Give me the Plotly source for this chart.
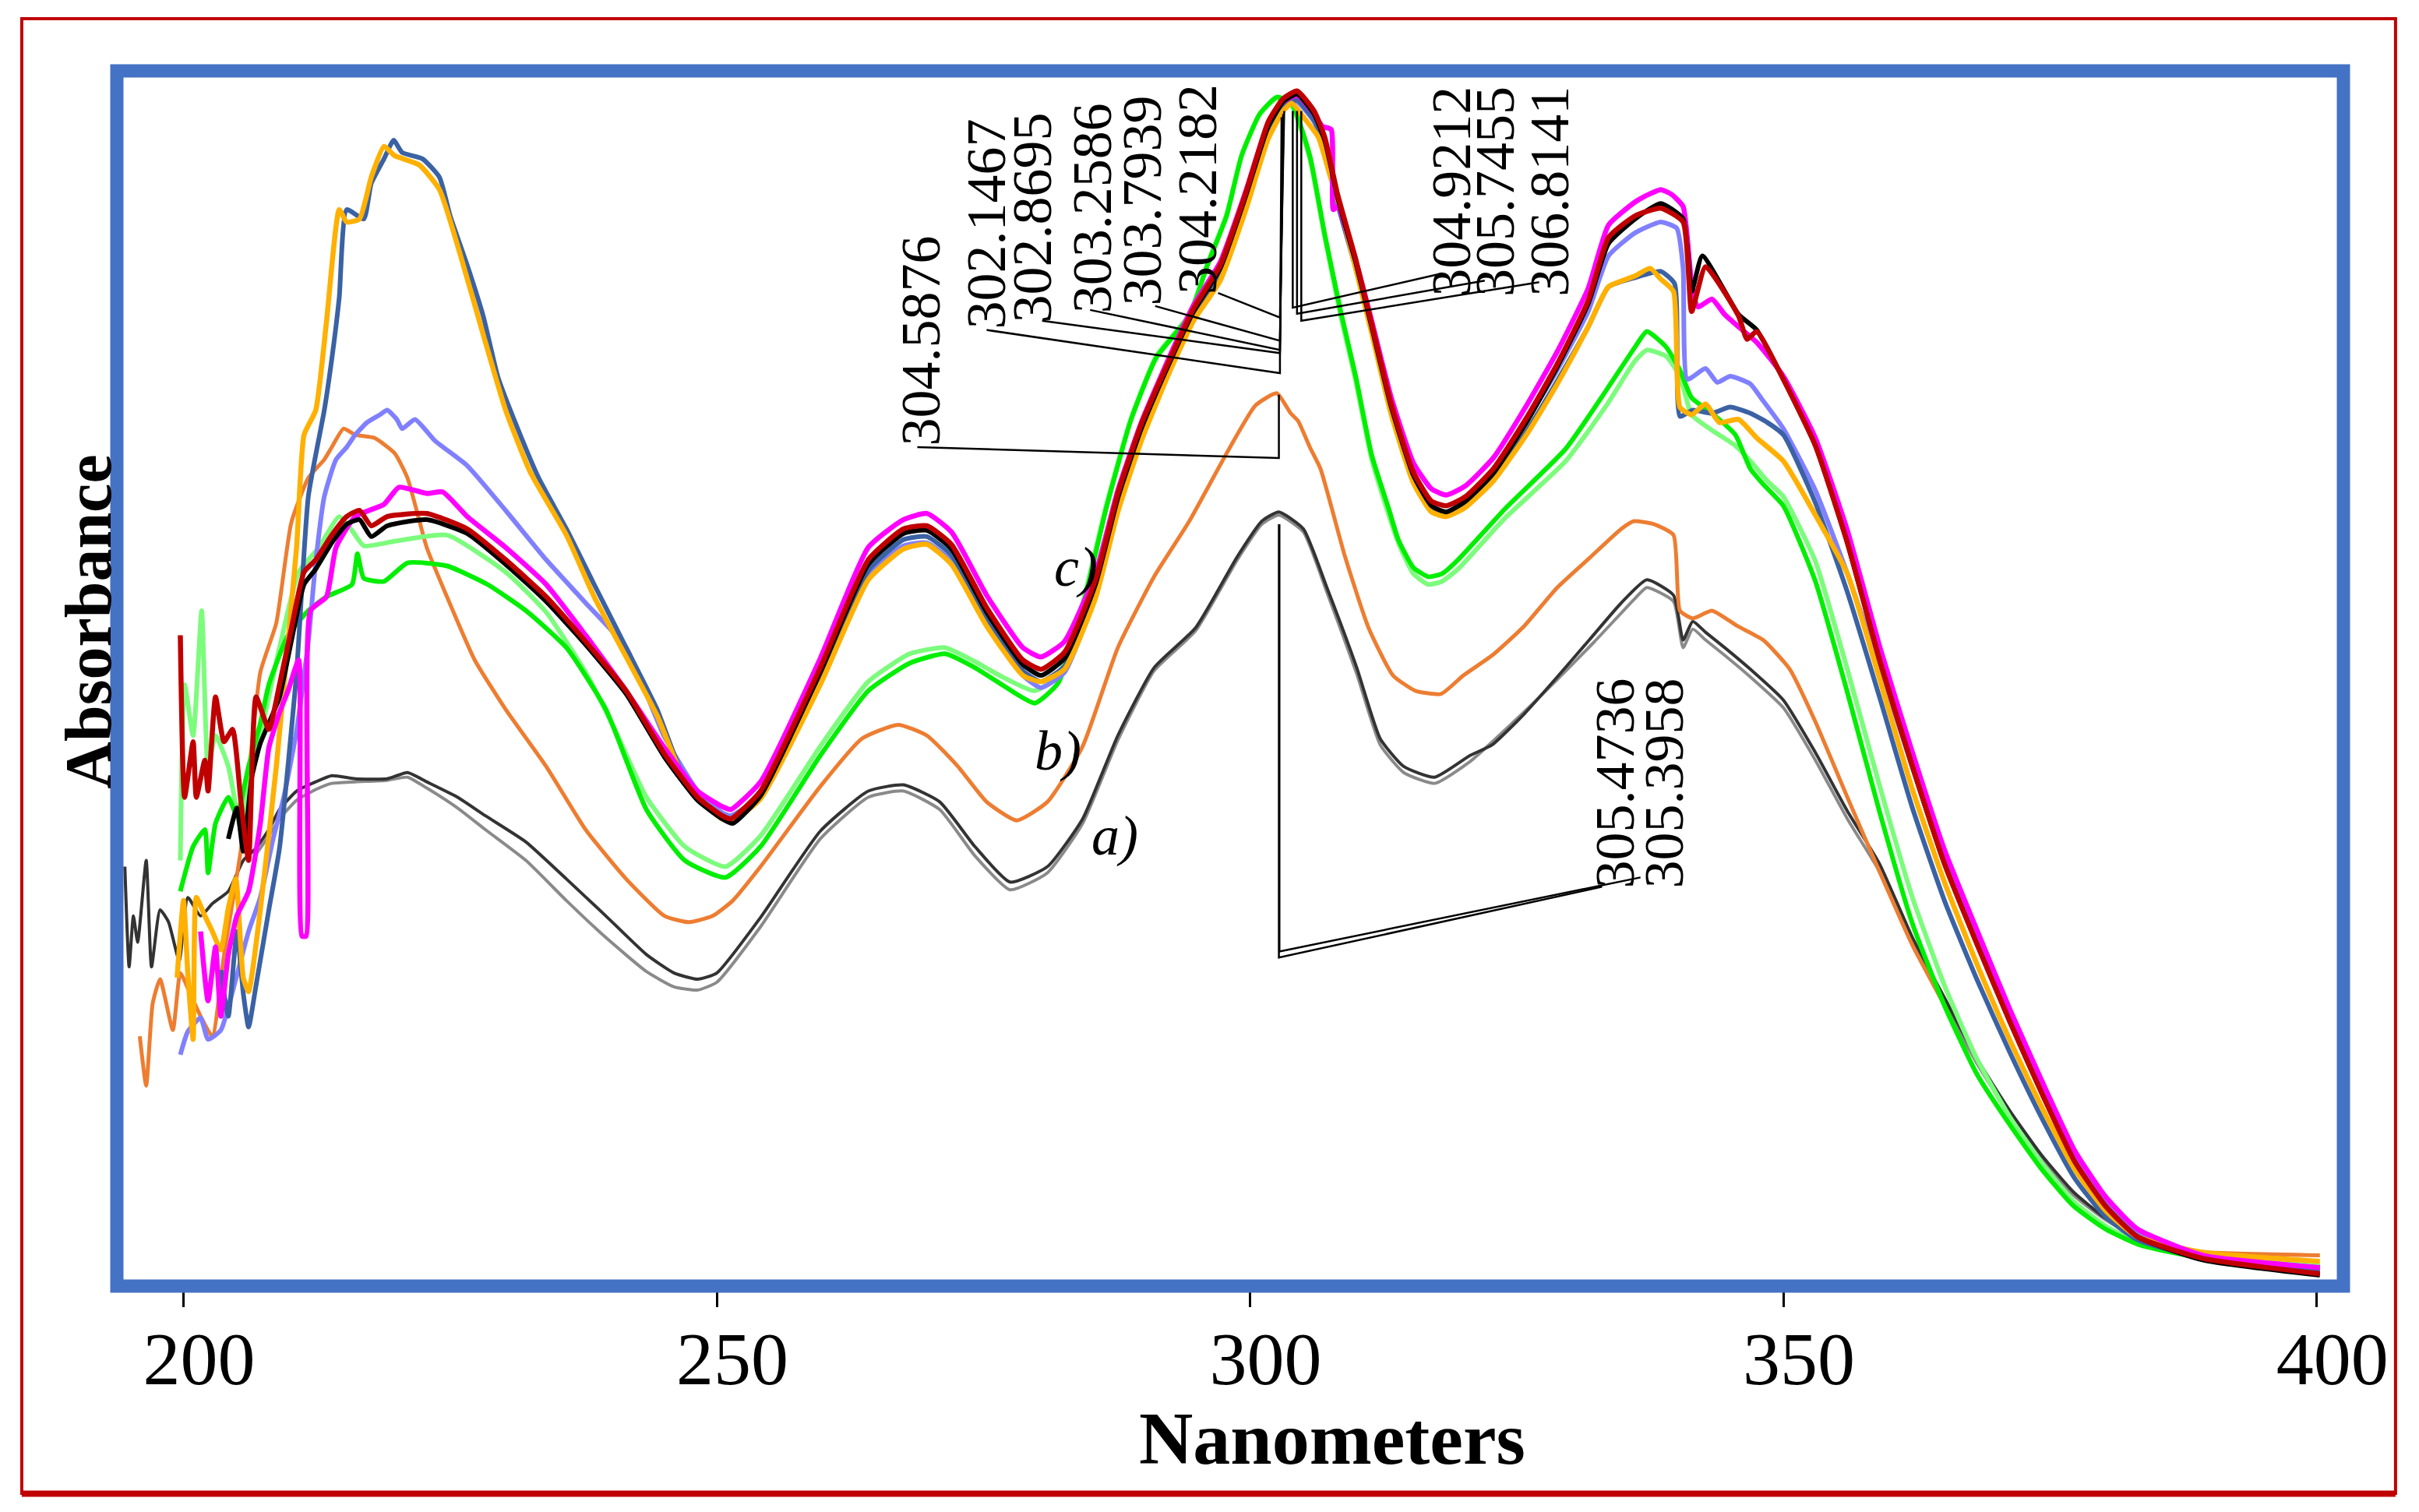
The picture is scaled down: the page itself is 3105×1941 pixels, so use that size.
import plotly.graph_objects as go

# ---------------- data (wavelength nm, absorbance) ----------------
A_DARK = [(194.5,.272),(194.9,.207),(195.3,.240),(195.7,.223),(196.5,.276),(197.0,.207),(197.8,.244),(198.6,.236),
          (199.6,.211),(200.4,.252),(201.6,.240),(202.7,.248),(204.2,.256),(205.6,.276),(206.8,.284),(208.0,.296),
          (209.0,.309),(210.6,.321),(212.4,.327),(213.9,.331),(216.1,.329),(219.1,.329),(221.0,.333),(222.8,.327),
          (225.7,.317),(228.3,.305),(232.1,.288),(235.9,.264),(239.6,.240),(243.4,.215),(246.0,.203),(248.2,.199),
          (250.0,.203),(254.1,.239),(259.7,.295),(264.2,.321),(267.5,.325),(270.9,.314),(274.2,.285),(277.5,.262),
          (281.0,.272),(284.3,.303),(287.6,.357),(291.0,.401),(294.9,.427),(298.8,.473),(301.1,.496),(302.7,.502),
          (305.0,.491),(307.2,.453),(310.0,.401),(312.2,.355),(314.4,.337),(317.3,.330),(320.6,.344),(322.7,.351),
          (325.7,.371),(328.8,.395),(331.8,.419),(334.8,.443),(337.2,.458),(339.7,.448),(340.6,.419),(341.5,.431),
          (342.7,.424),(344.5,.414),(346.9,.400),(350.0,.380),(353.0,.346),(356.0,.308),(359.0,.274),(362.1,.226),
          (365.1,.187),(368.1,.148),(371.2,.114),(374.2,.085),(377.2,.061),(380.2,.044),(383.3,.032),(389.3,.020),
          (400.3,.013)]

A_LIGHT = [(206.8,.280),(208.0,.292),(209.0,.303),(210.6,.315),(212.4,.322),(213.9,.326),(216.1,.327),(219.1,.328),
           (221.0,.330),(222.8,.323),(225.7,.310),(228.3,.296),(232.1,.276),(235.9,.250),(239.6,.226),(243.4,.204),
           (246.0,.194),(248.2,.192),(250.0,.197),(254.1,.233),(259.7,.290),(264.2,.317),(267.5,.321),(270.9,.309),
           (274.2,.279),(277.5,.257),(281.0,.268),(284.3,.300),(287.6,.354),(291.0,.399),(294.9,.425),(298.8,.471),
           (301.1,.494),(302.7,.500),(305.0,.489),(307.2,.450),(310.0,.397),(312.2,.351),(314.4,.333),(317.3,.326),
           (320.6,.340),(326.7,.379),(332.3,.418),(336.1,.446),(337.2,.453),(339.7,.444),(340.6,.414),(341.5,.426),
           (342.7,.419),(344.5,.409),(346.9,.395),(350.0,.375),(353.0,.341),(356.0,.303),(359.0,.269),(362.1,.222),
           (365.1,.183),(368.1,.145),(371.2,.111),(374.2,.083),(377.2,.059),(380.2,.043),(383.3,.031),(389.3,.019),
           (400.3,.012)]

ORANGE = [(195.9,.162),(196.5,.130),(197.1,.183),(197.8,.199),(199.0,.166),(199.7,.203),(200.6,.190),(201.6,.175),
          (202.7,.162),(203.8,.215),(205.4,.284),(207.2,.398),(208.7,.430),(210.1,.495),(211.7,.524),(213.2,.536),
          (213.9,.544),(215.0,.556),(216.1,.552),(217.9,.550),(219.8,.540),(221.0,.524),(222.8,.479),(224.7,.447),
          (227.3,.406),(230.2,.374),(234.0,.337),(237.7,.296),(241.5,.264),(245.1,.240),(247.4,.236),(249.6,.240),
          (251.5,.250),(254.1,.272),(259.7,.324),(263.6,.355),(267.0,.364),(269.7,.357),(272.6,.337),(275.3,.314),
          (278.1,.302),(281.0,.314),(284.3,.350),(287.6,.414),(291.0,.460),(294.3,.496),(297.8,.540),(300.5,.571),
          (302.5,.579),(303.8,.566),(304.5,.561),(305.6,.544),(306.6,.530),(308.9,.473),(311.1,.427),(313.4,.396),
          (315.5,.386),(317.9,.384),(320.0,.396),(322.7,.409),(325.7,.428),(328.8,.453),(331.8,.472),(334.8,.491),
          (336.0,.496),(337.9,.494),(339.7,.487),(340.3,.438),(341.5,.433),(343.3,.438),(345.7,.428),(348.1,.419),
          (350.6,.400),(353.0,.366),(356.0,.317),(359.0,.269),(362.1,.221),(365.1,.182),(368.1,.138),(371.2,.105),
          (374.2,.076),(377.2,.052),(380.2,.037),(383.3,.027),(389.3,.022),(400.3,.020)]

LIGHTGREEN = [(199.7,.276),(200.1,.390),(200.9,.357),(201.7,.438),(202.3,.337),(203.0,.357),(204.2,.337),(205.4,.296),
              (206.1,.330),(207.2,.357),(209.0,.414),(210.8,.463),(212.7,.479),(214.6,.499),(215.8,.490),(216.9,.480),
              (219.8,.483),(224.7,.487),(230.2,.463),(234.0,.437),(237.7,.398),(240.5,.360),(243.4,.317),(247.0,.285),
              (250.8,.272),(254.1,.292),(259.7,.350),(264.2,.392),(268.1,.410),(271.4,.414),(274.2,.405),(276.5,.396),
              (279.8,.386),(282.0,.396),(284.3,.443),(286.5,.506),(288.8,.562),(291.2,.603),(294.3,.630),(296.0,.663),
              (297.8,.695),(299.2,.733),(300.9,.760),(302.5,.770),(303.9,.765),(305.6,.731),(307.0,.680),(308.5,.629),
              (309.9,.587),(311.4,.536),(313.0,.500),(313.9,.482),(315.3,.462),(316.7,.455),(318.0,.457),(319.5,.465),
              (323.9,.498),(329.6,.535),(333.5,.572),(336.1,.600),(337.2,.607),(339.0,.603),(340.3,.590),(341.4,.565),
              (343.3,.555),(345.5,.545),(346.9,.535),(348.5,.522),(350.0,.512),(353.0,.470),(356.0,.400),(359.0,.325),
              (362.1,.252),(365.1,.195),(368.1,.148),(371.2,.110),(374.2,.080),(377.2,.055),(380.2,.039),(383.3,.028),
              (389.3,.019),(400.3,.014)]

GREEN = [(199.7,.256),(200.9,.285),(202.0,.296),(202.3,.268),(203.0,.300),(204.2,.317),(205.0,.305),(206.1,.337),
         (207.2,.365),(208.0,.390),(209.8,.422),(211.7,.438),(213.4,.447),(215.8,.455),(216.3,.475),(216.9,.459),
         (218.8,.457),(221.0,.469),(224.7,.467),(228.5,.455),(232.1,.438),(235.9,.414),(239.6,.374),(243.4,.309),
         (247.0,.276),(250.8,.265),(254.1,.285),(259.7,.344),(264.2,.386),(268.1,.404),(271.4,.410),(274.2,.401),
         (276.5,.391),(279.8,.378),(282.0,.391),(284.3,.440),(286.5,.504),(288.8,.561),(291.2,.602),(294.3,.629),
         (296.0,.662),(297.8,.694),(299.2,.733),(300.9,.760),(302.5,.771),(303.9,.767),(305.6,.733),(307.0,.682),
         (308.5,.632),(309.9,.590),(311.4,.539),(313.0,.504),(313.9,.484),(315.3,.466),(316.7,.460),(318.0,.462),
         (319.5,.471),(323.9,.504),(329.6,.543),(333.5,.582),(336.1,.609),(337.2,.619),(339.0,.609),(340.3,.594),
         (341.4,.576),(343.3,.566),(345.5,.552),(346.9,.530),(348.1,.520),(350.0,.506),(353.0,.457),(356.0,.385),
         (359.0,.308),(362.1,.235),(365.1,.182),(368.1,.138),(371.2,.105),(374.2,.076),(377.2,.052),(380.2,.037),
         (383.3,.027),(389.3,.018),(400.3,.012)]

LIGHTBLUE = [(199.7,.150),(200.4,.165),(201.6,.174),(202.3,.160),(203.5,.166),(204.9,.199),(206.1,.230),(207.2,.252),
             (208.4,.290),(209.4,.317),(210.6,.360),(211.7,.418),(212.4,.470),(213.2,.512),(214.3,.536),(215.3,.544),
             (216.1,.552),(217.2,.560),(218.4,.565),(219.1,.568),(220.0,.562),(220.5,.556),(221.7,.562),(223.6,.548),
             (226.6,.532),(230.2,.503),(234.0,.471),(237.7,.443),(241.5,.414),(245.1,.356),(248.2,.321),(250.5,.307),
             (251.3,.305),(254.1,.318),(259.7,.392),(264.2,.462),(267.5,.480),(269.7,.482),(272.0,.470),(275.3,.430),
             (278.7,.396),(280.4,.388),(282.6,.398),(285.5,.448),(287.6,.508),(289.8,.553),(292.4,.596),(294.7,.630),
             (297.2,.658),(299.6,.704),(301.7,.750),(303.1,.766),(304.4,.768),(306.0,.755),(307.0,.740),(308.2,.703),
             (309.9,.662),(311.4,.622),(313.2,.572),(315.3,.527),(317.0,.509),(318.4,.506),(320.2,.511),(322.8,.528),
             (326.0,.562),(328.8,.594),(331.7,.632),(333.6,.668),(336.1,.683),(338.5,.690),(340.0,.686),(340.6,.660),
             (341.0,.588),(342.7,.595),(343.8,.586),(345.0,.590),(346.9,.585),(348.0,.575),(350.0,.556),(353.0,.516),
             (356.0,.462),(359.1,.400),(362.1,.336),(365.1,.276),(368.2,.224),(371.2,.175),(374.3,.128),(377.3,.084),
             (380.2,.054),(383.2,.034),(389.3,.020),(400.3,.012)]

DARKBLUE = [(203.5,.205),(204.2,.175),(205.0,.230),(205.6,.190),(206.1,.168),(206.8,.195),(208.0,.244),(209.0,.284),
            (210.6,.398),(211.7,.512),(213.2,.568),(213.9,.601),(214.6,.641),(215.3,.698),(216.9,.692),(217.6,.715),
            (218.8,.731),(219.7,.743),(220.5,.735),(222.4,.731),(224.0,.719),(225.0,.694),(226.6,.662),(228.1,.629),
            (229.5,.589),(231.1,.560),(233.3,.524),(235.9,.491),(238.5,.455),(241.5,.414),(244.4,.374),(246.7,.333),
            (248.9,.313),(250.5,.305),(251.5,.303),(254.1,.317),(259.7,.394),(264.2,.464),(267.5,.484),(269.7,.486),
            (272.0,.474),(275.3,.433),(278.7,.399),(280.4,.392),(282.6,.402),(285.5,.450),(287.6,.508),(289.8,.553),
            (292.4,.595),(294.7,.629),(297.2,.656),(299.6,.702),(301.7,.748),(303.1,.765),(304.4,.769),(306.0,.756),
            (307.0,.739),(308.2,.702),(309.9,.660),(311.4,.619),(313.2,.568),(315.3,.523),(317.0,.505),(318.4,.502),
            (320.2,.507),(322.8,.523),(326.0,.555),(328.8,.587),(331.7,.622),(333.6,.648),(336.1,.654),(338.5,.658),
            (339.8,.650),(340.3,.564),(341.5,.568),(343.3,.566),(345.0,.570),(346.9,.566),(348.5,.560),(350.0,.552),
            (353.0,.508),(356.0,.450),(359.1,.380),(362.1,.310),(365.1,.250),(368.2,.198),(371.2,.152),(374.3,.108),
            (377.3,.070),(380.2,.045),(383.2,.030),(389.3,.018),(400.3,.010)]

AMBER = [(199.4,.200),(200.0,.250),(200.4,.203),(200.9,.160),(201.2,.252),(202.0,.240),(202.7,.230),(203.5,.218),
         (204.2,.245),(204.9,.264),(205.6,.200),(206.1,.191),(207.2,.244),(208.7,.337),(210.6,.479),(211.3,.552),
         (212.4,.568),(213.4,.625),(214.6,.698),(215.3,.690),(216.5,.692),(217.6,.719),(218.8,.739),(219.8,.733),
         (222.1,.727),(224.0,.711),(225.9,.670),(228.1,.617),(230.2,.568),(232.5,.528),(235.9,.487),(238.5,.447),
         (241.5,.408),(244.4,.370),(246.7,.332),(248.9,.312),(250.5,.303),(251.5,.302),(254.1,.316),(259.7,.390),
         (264.2,.458),(267.5,.478),(269.7,.481),(272.0,.468),(275.3,.428),(278.7,.396),(280.4,.392),(282.6,.400),
         (285.5,.446),(287.6,.502),(289.8,.548),(292.4,.592),(294.7,.626),(297.2,.652),(299.6,.698),(301.7,.744),
         (303.1,.762),(303.9,.767),(305.0,.758),(306.4,.745),(307.5,.720),(308.5,.698),(309.9,.660),(311.4,.618),
         (313.2,.566),(315.3,.521),(317.0,.502),(318.4,.499),(320.2,.505),(322.8,.522),(326.0,.553),(328.8,.585),
         (331.7,.622),(333.6,.648),(336.1,.655),(337.5,.660),(338.5,.653),(339.7,.645),(340.3,.570),(341.4,.565),
         (342.7,.572),(344.0,.560),(345.8,.562),(347.5,.550),(350.0,.535),(353.0,.500),(356.0,.462),(359.1,.392),
         (362.1,.322),(365.1,.262),(368.2,.208),(371.2,.160),(374.3,.115),(377.3,.076),(380.2,.049),(383.2,.032),
         (389.3,.022),(400.3,.016)]

MAGENTA = [(201.6,.230),(202.3,.185),(203.0,.220),(203.5,.175),(204.2,.215),(205.0,.240),(206.1,.256),(207.2,.300),
           (208.0,.349),(209.0,.372),(209.8,.386),(210.8,.406),(211.1,.227),(211.5,.227),(211.9,.438),(213.4,.447),
           (214.3,.479),(216.1,.499),(218.8,.507),(220.2,.518),(222.8,.514),(224.3,.515),(226.6,.499),(230.2,.479),
           (234.0,.455),(237.7,.422),(241.5,.386),(245.1,.349),(248.2,.321),(250.5,.311),(251.3,.309),(254.1,.327),
           (259.7,.407),(264.2,.479),(267.5,.497),(269.7,.501),(272.0,.489),(275.3,.448),(278.7,.414),(280.4,.408),
           (282.6,.418),(285.5,.462),(287.6,.516),(289.8,.560),(292.4,.602),(294.7,.636),(297.2,.664),(299.6,.710),
           (301.7,.754),(303.1,.768),(304.4,.772),(306.0,.760),(306.8,.752),(307.6,.750),(307.8,.698),(308.2,.700),
           (309.9,.665),(311.4,.626),(313.2,.577),(315.3,.534),(317.0,.517),(318.4,.513),(320.2,.519),(322.8,.537),
           (326.0,.572),(328.8,.606),(331.7,.647),(333.6,.688),(336.1,.703),(337.4,.708),(338.5,.711),(339.5,.708),
           (340.6,.700),(341.4,.650),(342.0,.635),(343.3,.640),(344.5,.630),(345.8,.622),(347.5,.612),(350.0,.590),
           (353.0,.550),(356.0,.490),(359.1,.413),(362.1,.346),(365.1,.283),(368.2,.230),(371.2,.180),(374.3,.132),
           (377.3,.088),(380.2,.058),(383.2,.037),(389.3,.020),(400.3,.012)]

BLACK_C = [(204.2,.290),(205.0,.310),(205.6,.282),(206.4,.330),(207.2,.352),(208.0,.365),(209.0,.382),(210.1,.418),
           (211.3,.455),(212.4,.465),(213.9,.482),(215.3,.494),(216.5,.497),(217.6,.486),(219.1,.493),(222.8,.497),
           (226.6,.488),(230.2,.468),(234.0,.444),(237.7,.416),(241.5,.384),(245.1,.343),(248.2,.315),(250.5,.303),
           (251.5,.300),(254.1,.318),(259.7,.398),(264.2,.468),(267.5,.488),(269.7,.490),(272.0,.478),(275.3,.437),
           (278.7,.403),(280.4,.396),(282.6,.407),(285.5,.455),(287.6,.511),(289.8,.556),(292.4,.598),(294.7,.632),
           (297.2,.660),(299.6,.707),(301.7,.752),(303.1,.768),(304.4,.773),(306.0,.760),(307.0,.743),(308.2,.706),
           (309.9,.664),(311.4,.622),(313.2,.571),(315.3,.526),(317.0,.506),(318.4,.502),(320.2,.509),(322.8,.527),
           (326.0,.561),(328.8,.596),(331.7,.637),(333.6,.676),(336.1,.692),(338.5,.702),(340.6,.692),(341.4,.645),
           (342.4,.668),(345.8,.630),(347.5,.620),(350.0,.588),(353.0,.545),(356.0,.482),(359.1,.404),(362.1,.337),
           (365.1,.274),(368.2,.221),(371.2,.172),(374.3,.124),(377.3,.081),(380.2,.052),(383.2,.032),(389.3,.017),
           (400.3,.007)]

DARKRED = [(199.7,.422),(200.1,.317),(200.9,.353),(201.2,.317),(202.0,.341),(202.3,.321),(203.0,.382),(203.8,.353),
           (204.6,.361),(205.4,.313),(206.1,.276),(206.8,.382),(208.0,.361),(209.0,.390),(210.1,.426),(211.3,.463),
           (212.4,.471),(213.9,.487),(215.3,.499),(216.5,.503),(217.6,.493),(219.1,.499),(222.8,.501),(226.6,.491),
           (230.2,.471),(234.0,.447),(237.7,.418),(241.5,.386),(245.1,.345),(248.2,.317),(250.5,.305),(251.3,.303),
           (254.1,.321),(259.7,.401),(264.2,.471),(267.5,.491),(269.7,.493),(272.0,.481),(275.3,.440),(278.7,.406),
           (280.4,.400),(282.6,.411),(285.5,.458),(287.6,.514),(289.8,.559),(292.4,.600),(294.7,.634),(297.2,.662),
           (299.6,.709),(301.7,.755),(303.1,.770),(304.4,.775),(306.0,.762),(307.0,.745),(308.2,.708),(309.9,.666),
           (311.4,.624),(313.2,.573),(315.3,.528),(317.0,.509),(318.4,.506),(320.2,.512),(322.8,.530),(326.0,.564),
           (328.8,.598),(331.7,.639),(333.6,.680),(336.1,.694),(338.5,.699),(340.6,.690),(341.4,.632),(342.7,.661),
           (345.8,.629),(346.6,.614),(347.5,.619),(350.0,.588),(353.0,.545),(356.0,.482),(359.1,.404),(362.1,.337),
           (365.1,.274),(368.2,.221),(371.2,.172),(374.3,.124),(377.3,.081),(380.2,.052),(383.2,.032),(389.3,.018),
           (400.3,.008)]

# drawing order, colours, widths
SERIES = [
    ("a2", A_LIGHT, "#8a8a8a", 4),
    ("a1", A_DARK, "#333333", 4),
    ("orange", ORANGE, "#ED7D31", 5),
    ("lightgreen", LIGHTGREEN, "#7CFC7C", 6),
    ("green", GREEN, "#00EE00", 6),
    ("lightblue", LIGHTBLUE, "#8080FF", 6),
    ("darkblue", DARKBLUE, "#3A62A4", 6),
    ("amber", AMBER, "#FFB000", 6.5),
    ("magenta", MAGENTA, "#FF00FF", 6.5),
    ("black", BLACK_C, "#000000", 6),
    ("darkred", DARKRED, "#C00000", 6.5),
]

# peak labels: text, label centre (nm, A), leader polyline
PEAK_LABELS = ["304.5876", "302.1467", "302.8695", "303.2586", "303.7939", "304.2182",
               "304.9212", "305.7455", "306.8141", "305.4736", "305.3958"]
LABEL_POS = [(269.2, .613), (275.3, .689), (279.6, .693), (285.2, .699), (289.9, .704), (295.1, .711),
             (318.9, .710), (323.0, .710), (328.1, .710), (334.2, .326), (338.8, .326)]
LEADERS = [
    [(268.8, .544), (302.7, .537), (302.7, .578)],
    [(275.3, .620), (302.8, .592), (302.8, .605), (302.95, .758)],
    [(280.5, .626), (302.8, .605), (303.05, .758)],
    [(285.0, .633), (302.8, .607), (303.1, .760)],
    [(291.1, .6355), (302.8, .613), (303.15, .760)],
    [(297.0, .644), (302.8, .628), (303.2, .762)],
    [(317.6, .656), (304.0, .6345), (304.0, .762)],
    [(322.0, .652), (304.4, .6305), (304.4, .762)],
    [(327.1, .651), (304.8, .626), (304.8, .762)],
    [(333.0, .259), (302.7, .213), (302.7, .494)],
    [(336.6, .265), (302.75, .217), (302.75, .494)],
]
GROUP_LABELS = ["a)", "b)", "c)"]
GROUP_POS = [(287.3, .292), (282.0, .347), (283.7, .466)]

TICKS = [200, 250, 300, 350, 400]
X_RANGE = [193.75, 402.51]
Y_RANGE = [0.0, 0.788]

# ---------------- figure ----------------
fig = go.Figure()
for name, pts, col, w in SERIES:
    fig.add_trace(go.Scatter(x=[p[0] for p in pts], y=[p[1] for p in pts], mode="lines",
                             line=dict(color=col, width=w, shape="spline", smoothing=0.5),
                             name=name, hoverinfo="skip"))
for pts in LEADERS:
    fig.add_trace(go.Scatter(x=[p[0] for p in pts], y=[p[1] for p in pts], mode="lines",
                             line=dict(color="black", width=2.5), hoverinfo="skip"))

ann = []
for txt, (x, y) in zip(PEAK_LABELS, LABEL_POS):
    ann.append(dict(x=x, y=y, xref="x", yref="y", text=txt, showarrow=False, textangle=-90,
                    xanchor="center", yanchor="middle",
                    font=dict(family="Liberation Serif", size=72, color="black")))
for txt, (x, y) in zip(GROUP_LABELS, GROUP_POS):
    ann.append(dict(x=x, y=y, xref="x", yref="y", text="<i>%s</i>" % txt, showarrow=False,
                    xanchor="center", yanchor="middle",
                    font=dict(family="Liberation Serif", size=72, color="black")))
ann.append(dict(x=0.546, y=-0.125, xref="paper", yref="paper", text="<b>Nanometers</b>", showarrow=False,
                xanchor="center", yanchor="middle",
                font=dict(family="Liberation Serif", size=96, color="black")))
ann.append(dict(x=-0.0126, y=0.547, xref="paper", yref="paper", text="<b>Absorbance</b>", showarrow=False,
                textangle=-90, xanchor="center", yanchor="middle",
                font=dict(family="Liberation Serif", size=84, color="black")))

shapes = [
    dict(type="rect", xref="paper", yref="paper", x0=0, x1=1, y0=0, y1=1,
         line=dict(color="#4472C4", width=17), layer="above"),
    dict(type="rect", xref="paper", yref="paper", x0=-0.0427, x1=1.0234, y0=-0.1705, y1=1.043,
         line=dict(color="#C00000", width=4), layer="above"),
    dict(type="line", xref="paper", yref="paper", x0=-0.0427, x1=1.0234, y0=-0.1708, y1=-0.1708,
         line=dict(color="#C00000", width=8), layer="above"),
]

fig.update_layout(
    width=3105, height=1941,
    margin=dict(l=150, r=97, t=91, b=290, pad=0),
    paper_bgcolor="white", plot_bgcolor="white",
    showlegend=False,
    annotations=ann, shapes=shapes,
    xaxis=dict(range=X_RANGE, tickvals=TICKS, ticktext=[str(t) for t in TICKS],
               ticks="outside", ticklen=26, tickwidth=2.5, tickcolor="black",
               showgrid=False, zeroline=False, showline=False,
               ticklabelshift=20, ticklabelstandoff=-16,
               tickfont=dict(family="Liberation Serif", size=96, color="black")),
    yaxis=dict(range=Y_RANGE, showticklabels=False, ticks="", showgrid=False,
               zeroline=False, showline=False),
)

fig.write_html("out.html", config={"displayModeBar": False},
               post_script="document.body.style.margin='0';")
